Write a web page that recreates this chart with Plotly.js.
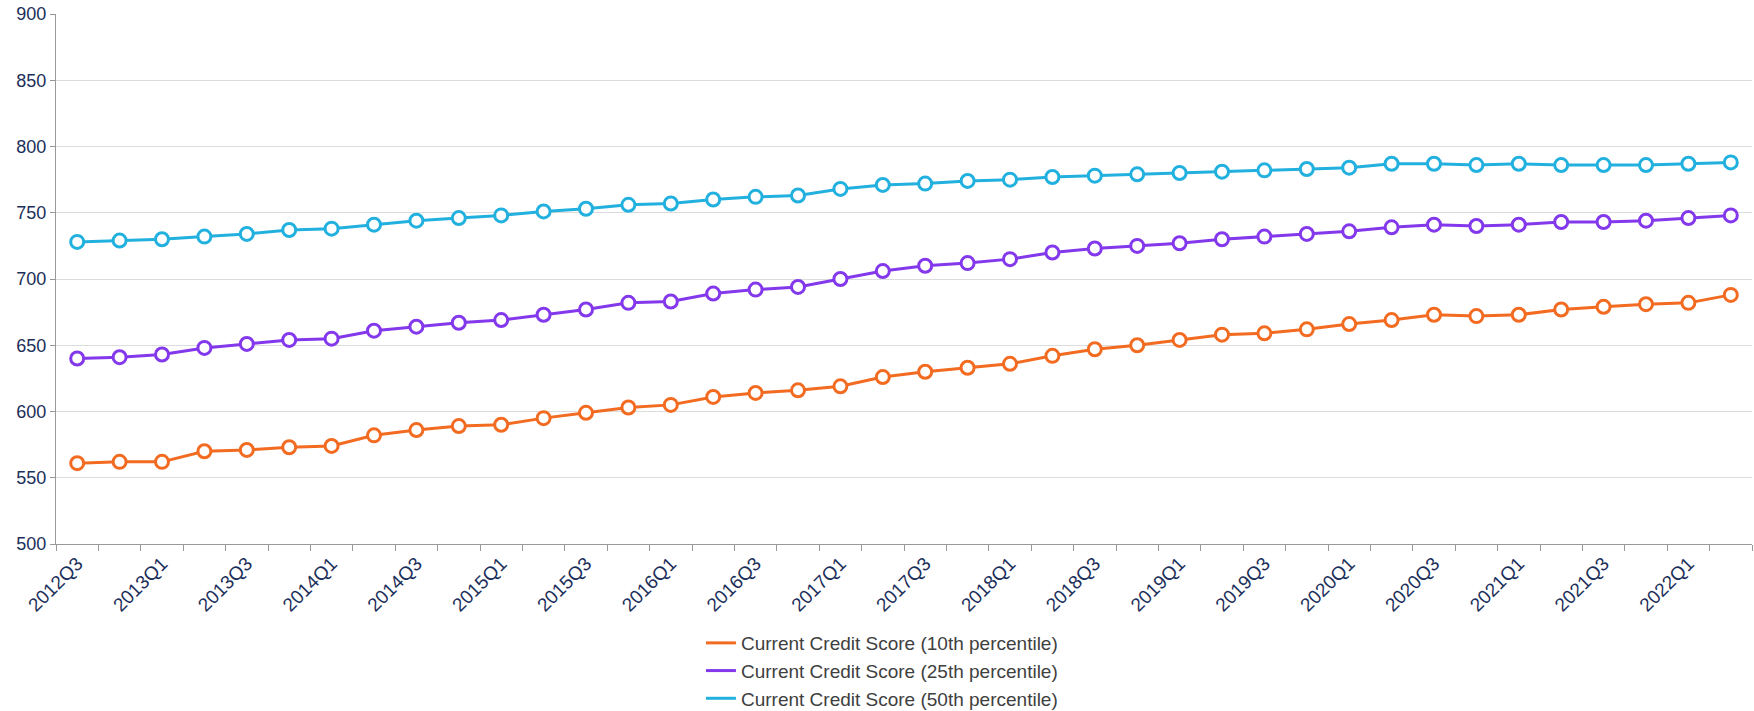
<!DOCTYPE html>
<html>
<head>
<meta charset="utf-8">
<script src="https://cdn.plot.ly/plotly-3.0.1.min.js"></script>
<style>
  html, body { margin: 0; padding: 0; background: #ffffff; }
  #chart { width: 1754px; height: 711px; }
</style>
</head>
<body>
<div id="chart"></div>
<script>
const quarters = [
  "2012Q3","2012Q4","2013Q1","2013Q2","2013Q3","2013Q4","2014Q1","2014Q2",
  "2014Q3","2014Q4","2015Q1","2015Q2","2015Q3","2015Q4","2016Q1","2016Q2",
  "2016Q3","2016Q4","2017Q1","2017Q2","2017Q3","2017Q4","2018Q1","2018Q2",
  "2018Q3","2018Q4","2019Q1","2019Q2","2019Q3","2019Q4","2020Q1","2020Q2",
  "2020Q3","2020Q4","2021Q1","2021Q2","2021Q3","2021Q4","2022Q1","2022Q2"
];

const p10 = [
  561, 562, 562, 570, 571, 573, 574, 582, 586, 589,
  590, 595, 599, 603, 605, 611, 614, 616, 619, 626,
  630, 633, 636, 642, 647, 650, 654, 658, 659, 662,
  666, 669, 673, 672, 673, 677, 679, 681, 682, 688
];

const p25 = [
  640, 641, 643, 648, 651, 654, 655, 661, 664, 667,
  669, 673, 677, 682, 683, 689, 692, 694, 700, 706,
  710, 712, 715, 720, 723, 725, 727, 730, 732, 734,
  736, 739, 741, 740, 741, 743, 743, 744, 746, 748
];

const p50 = [
  728, 729, 730, 732, 734, 737, 738, 741, 744, 746,
  748, 751, 753, 756, 757, 760, 762, 763, 768, 771,
  772, 774, 775, 777, 778, 779, 780, 781, 782, 783,
  784, 787, 787, 786, 787, 786, 786, 786, 787, 788
];

const seriesNames = [
  "Current Credit Score (10th percentile)",
  "Current Credit Score (25th percentile)",
  "Current Credit Score (50th percentile)"
];
const seriesColors = ["#F26B21", "#8338EC", "#22B0DF"];
const seriesValues = [p10, p25, p50];

const tickLabels = quarters.map((q, i) => (i % 2 === 0 ? q : ""));

const traces = [];
seriesValues.forEach((vals, k) => {
  traces.push({
    type: "scatter",
    mode: "lines",
    x: quarters,
    y: vals,
    name: seriesNames[k],
    line: { color: seriesColors[k], width: 3 },
    hoverinfo: "skip"
  });
});
seriesValues.forEach((vals, k) => {
  traces.push({
    type: "scatter",
    mode: "markers",
    x: quarters,
    y: vals,
    showlegend: false,
    marker: {
      symbol: "circle",
      size: 13,
      color: "#ffffff",
      line: { color: seriesColors[k], width: 3 }
    }
  });
});

const layout = {
  width: 1754,
  height: 711,
  margin: { l: 56, r: 2, t: 14, b: 167, autoexpand: false },
  paper_bgcolor: "#ffffff",
  plot_bgcolor: "#ffffff",
  font: { family: "Liberation Sans, Arial, sans-serif", size: 18, color: "#1c2f5a" },
  xaxis: {
    type: "category",
    range: [-0.5, quarters.length - 0.5],
    automargin: false,
    tickmode: "array",
    tickvals: quarters,
    ticktext: tickLabels,
    tickangle: -45,
    tickson: "boundaries",
    ticks: "outside",
    ticklen: 6,
    tickcolor: "#999999",
    showline: true,
    linecolor: "#999999",
    linewidth: 1,
    showgrid: false,
    zeroline: false,
    tickfont: { size: 19, color: "#1c2f5a" }
  },
  yaxis: {
    range: [500, 900],
    automargin: false,
    dtick: 50,
    tick0: 500,
    ticks: "outside",
    ticklen: 5,
    tickcolor: "#999999",
    showline: true,
    linecolor: "#999999",
    linewidth: 1,
    showgrid: true,
    gridcolor: "#dcdcdc",
    gridwidth: 1,
    zeroline: false,
    tickfont: { size: 18, color: "#1c2f5a" }
  },
  showlegend: true,
  legend: {
    orientation: "v",
    x: 0.487,
    xanchor: "center",
    y: -0.151,
    yanchor: "top",
    font: { size: 19, color: "#404040" },
    bgcolor: "rgba(0,0,0,0)",
    tracegroupgap: 0
  }
};

Plotly.newPlot("chart", traces, layout, { displayModeBar: false, staticPlot: true });
</script>
</body>
</html>
